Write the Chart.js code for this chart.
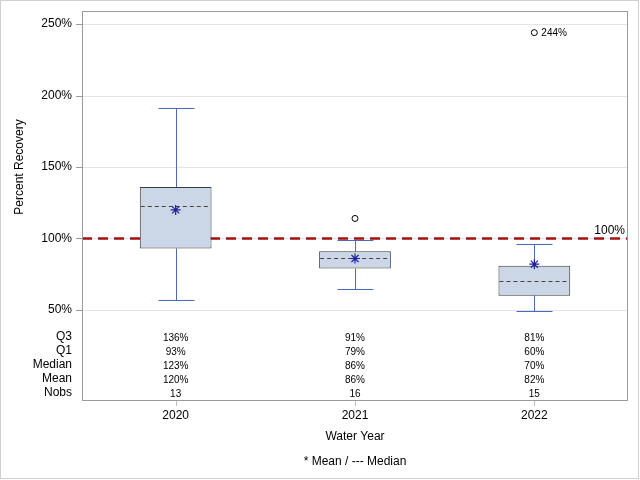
<!DOCTYPE html>
<html><head><meta charset="utf-8">
<script src="https://cdn.jsdelivr.net/npm/chart.js@4.4.0/dist/chart.umd.min.js"></script>
<style>html,body{margin:0;padding:0;background:#fff;}canvas{display:block;}</style>
</head><body>
<canvas id="c" width="640" height="480"></canvas>
<script>
const categories = ['2020', '2021', '2022'];
const q1Values = [93, 79, 60];
const q3Values = [136, 91, 81];
const medianValues = [123, 86, 70];
const meanValues = [120, 86, 82];
const whiskerLow = [57, 65, 49];
const whiskerHigh = [191, 99, 96];
const nobsValues = [13, 16, 15];
const outlierYears = ['2021', '2022'];
const outlierValues = [114, 244];
const outlierLabels = ['', '244%'];
const yTickValues = [50, 100, 150, 200, 250];
const referenceValue = 100;
const tableRowLabels = ['Q3', 'Q1', 'Median', 'Mean', 'Nobs'];

const FONT = '"Liberation Sans", Arial, sans-serif';
const FRAME_INSET = 4;

const boxPlugin = {
  id: 'boxExtras',
  beforeDatasetsDraw(chart) {
    const ctx = chart.ctx, xs = chart.scales.x, ys = chart.scales.y, a = chart.chartArea;
    const fl = a.left - FRAME_INSET, fr = a.right + FRAME_INSET;
    ctx.save();
    // grid lines and y tick marks
    ctx.lineWidth = 1;
    yTickValues.forEach(v => {
      const y = Math.round(ys.getPixelForValue(v)) + 0.5;
      ctx.strokeStyle = '#e4e4e4';
      ctx.beginPath(); ctx.moveTo(fl, y); ctx.lineTo(fr, y); ctx.stroke();
      ctx.strokeStyle = '#9a9a9a';
      ctx.beginPath(); ctx.moveTo(fl - 6, y); ctx.lineTo(fl, y); ctx.stroke();
    });
    // reference line
    const yr = Math.round(ys.getPixelForValue(referenceValue)) + 0.5;
    ctx.strokeStyle = '#a50f15';
    ctx.lineWidth = 2.5;
    ctx.setLineDash([10, 6]);
    ctx.beginPath(); ctx.moveTo(fl, yr); ctx.lineTo(fr, yr); ctx.stroke();
    ctx.setLineDash([]);
    ctx.fillStyle = '#000';
    ctx.font = '12px ' + FONT;
    ctx.textAlign = 'right'; ctx.textBaseline = 'bottom';
    ctx.fillText(referenceValue + '%', fr - 3, yr - 2);
    // whiskers
    ctx.strokeStyle = '#4a6cc0';
    ctx.lineWidth = 1;
    categories.forEach((c, i) => {
      const x = Math.round(xs.getPixelForValue(i)) + 0.5;
      const yl = Math.round(ys.getPixelForValue(whiskerLow[i])) + 0.5;
      const yh = Math.round(ys.getPixelForValue(whiskerHigh[i])) + 0.5;
      const yq1 = ys.getPixelForValue(q1Values[i]);
      const yq3 = ys.getPixelForValue(q3Values[i]);
      ctx.beginPath();
      ctx.moveTo(x, yh); ctx.lineTo(x, yq3);
      ctx.moveTo(x, yq1); ctx.lineTo(x, yl);
      ctx.moveTo(x - 18, yh); ctx.lineTo(x + 18, yh);
      ctx.moveTo(x - 18, yl); ctx.lineTo(x + 18, yl);
      ctx.stroke();
    });
    ctx.restore();
  },
  afterDatasetDraw(chart, args) {
    if (args.index !== 0) return;
    const ctx = chart.ctx, xs = chart.scales.x, ys = chart.scales.y;
    const meta = chart.getDatasetMeta(0);
    ctx.save();
    ctx.strokeStyle = '#444';
    ctx.lineWidth = 1;
    ctx.setLineDash([4, 3]);
    categories.forEach((c, i) => {
      const bar = meta.data[i];
      const half = bar.width / 2;
      const x = xs.getPixelForValue(i);
      const y = Math.round(ys.getPixelForValue(medianValues[i])) + 0.5;
      ctx.beginPath(); ctx.moveTo(x - half + 1, y); ctx.lineTo(x + half - 1, y); ctx.stroke();
    });
    ctx.restore();
  },
  afterDraw(chart) {
    const ctx = chart.ctx, xs = chart.scales.x, ys = chart.scales.y, a = chart.chartArea;
    const fl = a.left - FRAME_INSET, fr = a.right + FRAME_INSET;
    ctx.save();
    // plot frame
    ctx.strokeStyle = '#9a9a9a';
    ctx.lineWidth = 1;
    ctx.strokeRect(Math.round(fl) + 0.5, Math.round(a.top) + 0.5, Math.round(fr - fl) - 1, Math.round(a.bottom - a.top));
    // x tick marks
    categories.forEach((c, i) => {
      const x = Math.round(xs.getPixelForValue(i)) + 0.5;
      ctx.strokeStyle = '#c0c0c0';
      ctx.beginPath(); ctx.moveTo(x, a.bottom + 1); ctx.lineTo(x, a.bottom + 6); ctx.stroke();
    });
    // page border
    ctx.strokeStyle = '#d0d0d0';
    ctx.strokeRect(0.5, 0.5, 638, 478);
    // outlier labels
    ctx.fillStyle = '#000';
    ctx.font = '10px ' + FONT;
    ctx.textAlign = 'left'; ctx.textBaseline = 'middle';
    outlierYears.forEach((yr, i) => {
      if (!outlierLabels[i]) return;
      const x = xs.getPixelForValue(categories.indexOf(yr));
      const y = ys.getPixelForValue(outlierValues[i]);
      ctx.fillText(outlierLabels[i], x + 7, y + 1);
    });
    // table
    const rowY = [337, 351, 365, 379, 393];
    ctx.font = '12px ' + FONT;
    ctx.textAlign = 'right';
    tableRowLabels.forEach((l, r) => ctx.fillText(l, fl - 10, rowY[r]));
    ctx.font = '10px ' + FONT;
    ctx.textAlign = 'center';
    categories.forEach((c, i) => {
      const x = xs.getPixelForValue(i);
      const vals = [q3Values[i] + '%', q1Values[i] + '%', medianValues[i] + '%', meanValues[i] + '%', String(nobsValues[i])];
      vals.forEach((v, r) => ctx.fillText(v, x, rowY[r] + 1));
    });
    // axis titles
    ctx.font = '12px ' + FONT;
    ctx.textAlign = 'center';
    ctx.fillText('Water Year', (fl + fr) / 2, 437);
    ctx.fillText('* Mean / --- Median', (fl + fr) / 2, 462);
    ctx.translate(20, 167);
    ctx.rotate(-Math.PI / 2);
    ctx.fillText('Percent Recovery', 0, 0);
    ctx.restore();
  }
};

new Chart(document.getElementById('c'), {
  type: 'bar',
  data: {
    labels: categories,
    datasets: [
      {
        type: 'bar',
        data: categories.map((c, i) => [q1Values[i], q3Values[i]]),
        backgroundColor: '#cbd6e6',
        borderColor: '#3c3c3c',
        borderWidth: 1,
        borderSkipped: false,
        barPercentage: 0.4,
        categoryPercentage: 1,
        order: 2
      },
      {
        type: 'line',
        data: categories.map((c, i) => ({ x: c, y: meanValues[i] })),
        showLine: false,
        pointStyle: 'star',
        pointRadius: 5,
        pointBorderColor: '#2020a0',
        pointBackgroundColor: '#2020a0',
        pointBorderWidth: 1.2,
        order: 1
      },
      {
        type: 'line',
        data: outlierYears.map((c, i) => ({ x: c, y: outlierValues[i] })),
        showLine: false,
        pointStyle: 'circle',
        pointRadius: 3,
        pointBorderColor: '#000',
        pointBackgroundColor: 'rgba(0,0,0,0)',
        pointBorderWidth: 1,
        order: 1
      }
    ]
  },
  options: {
    responsive: false,
    animation: false,
    devicePixelRatio: 1,
    layout: { padding: { left: 0, right: 12 + FRAME_INSET, top: 11, bottom: 0 } },
    plugins: { legend: { display: false }, tooltip: { enabled: false }, title: { display: false } },
    scales: {
      x: {
        offset: true,
        grid: { display: true, drawOnChartArea: false, tickLength: 5, tickColor: 'rgba(0,0,0,0)', offset: false },
        border: { display: false },
        ticks: { color: '#000', font: { family: FONT, size: 12 }, padding: 3 },
        afterFit(s) { s.height = 80; }
      },
      y: {
        min: -13, max: 259,
        afterBuildTicks(s) { s.ticks = yTickValues.map(v => ({ value: v })); },
        grid: { display: true, drawOnChartArea: false, tickLength: 6 + FRAME_INSET, tickColor: 'rgba(0,0,0,0)' },
        border: { display: false },
        ticks: { color: '#000', font: { family: FONT, size: 12 }, padding: 4, callback: v => v + '%' },
        afterFit(s) { s.width = 82 + FRAME_INSET; }
      }
    }
  },
  plugins: [boxPlugin]
});
</script>
</body></html>
